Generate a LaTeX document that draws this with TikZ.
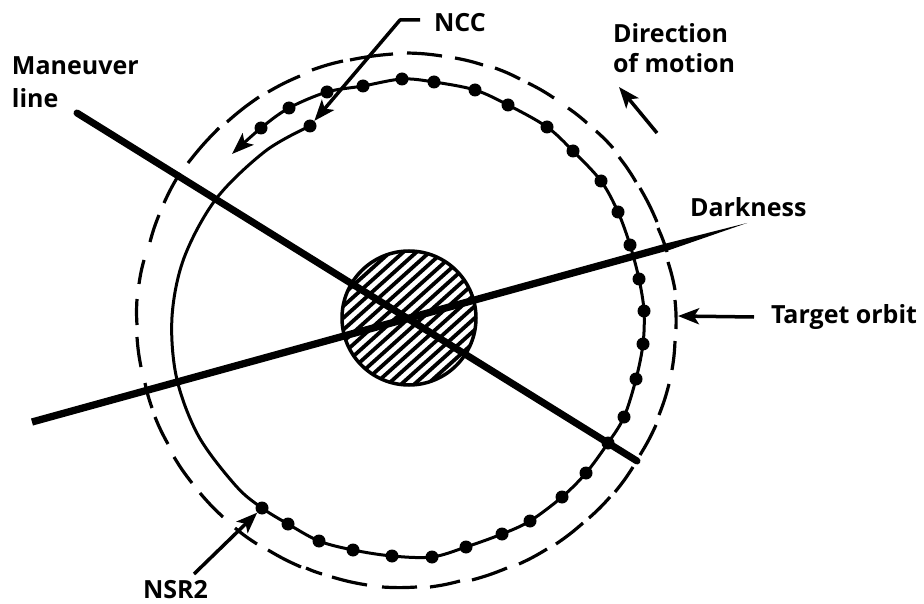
\documentclass[tikz,border=0pt]{standalone}
\usepackage{fontspec}
\setmainfont{Open Sans}
\usetikzlibrary{arrows.meta}
\tikzset{
  lbl/.style={font=\fontsize{25}{31}\selectfont\bfseries,inner sep=0pt,outer sep=0pt,anchor=base west},
  orbitline/.style={line width=3pt,line join=round},
  targetline/.style={line width=3.2pt},
  heavy/.style={line width=7pt},
  leader/.style={line width=3.5pt,-{Stealth[length=21pt,width=16pt,inset=5pt]}},
  orbdot/.style={circle,fill=black,inner sep=0pt,minimum size=13pt},
  earthdisk/.style={circle,draw,line width=3.5pt,inner sep=0pt,minimum size=134pt},
  hatchline/.style={line width=3.8pt}
}
\begin{document}
\begin{tikzpicture}[x=1pt,y=-1pt]
\useasboundingbox (0,0) rectangle (924,604);
% target orbit
\foreach \a/\b in {{407,53}/{442,56},{455,58}/{483,65},{495,68}/{520,79},{528,83}/{554,98},{568,108}/{587,123},{596,131}/{613,148},{619,157}/{636,182},{640,188}/{657,222},{658,228}/{667,252},{668,262}/{675,290},{675,300}/{676,329},{675,341}/{672,370},{669,384}/{659,415},{656,425}/{640,455},{633,467}/{615,492},{610,497}/{589,518},{583,523}/{556,544},{547,549}/{519,564},{507,568}/{472,580},{460,581}/{430,587},{417,587}/{382,587},{367,585}/{332,577},{322,574}/{306,568},{301,567}/{268,550},{257,544}/{235,528},{223,517}/{200,493},{192,483}/{174,457},{168,444}/{155,417},{152,408}/{145,383},{141,367}/{137,337},{137,325}/{137,299},{139,284}/{144,260},{150,242}/{159,215},{164,203}/{180,173},{188,163}/{219,128},{227,122}/{259,97},{268,92}/{300,76},{312,70}/{343,61},{350,60}/{393,54}}
  \draw[targetline] (\a) to[bend left=3.5] (\b);
% spiral orbit
\draw[orbitline,-{Stealth[length=22pt,width=16pt,inset=5pt]}] plot[smooth,tension=.55] coordinates {
 (310,126) (265.5,151) (216,199) (184,258) (172,317) (176.6,378) (198.5,436) (236,486)
 (262,508) (288,524) (319,541) (353,550) (392,556) (432,557) (466,547) (502,534)
 (530,521) (562,497) (586,473) (608,443) (624,417) (636,379) (643,344) (644,311)
 (639,279) (630,245) (618,212) (601,181) (573,151) (547,127) (508,105) (475,90)
 (434,82) (402,79) (363,86) (327,92) (289,108) (261,128) (232,154)};
\foreach \n/\p in {a/{262,508},b/{288,524},d/{319,541},e/{353,550},f/{392,556},g/{432,557},h/{466,547},i/{502,534},
 j/{530,521},k/{562,497},l/{586,473},m/{608,443},o/{624,417},p/{636,379},q/{643,344},r/{644,311},
 s/{639,279},t/{630,245},u/{618,212},v/{601,181},w/{573,151},x/{547,127},y/{508,105},z/{475,90},
 aa/{434,82},ab/{402,79},ac/{363,86},ad/{327,92},ae/{289,108},af/{261,128},ncd/{310,126}}
  \node[orbdot] (\n) at (\p) {};
% earth
\node[earthdisk] (earth) at (409,318) {};
\begin{scope}
\clip (409,318) circle (67);
\foreach \o in {-9,...,9}{
  \pgfmathsetmacro{\hx}{409+\o*8.8*0.669}
  \pgfmathsetmacro{\hy}{318+\o*8.8*0.743}
  \draw[hatchline] (\hx-60,\hy+54) -- (\hx+60,\hy-54);
}
\end{scope}
% heavy lines
\coordinate (m1) at (77,113);
\coordinate (m2) at (637,461);
\draw[heavy,line cap=round] (m1) -- (m2);
\coordinate (d3) at (747,223);
\fill (33,425.5) -- (31,418.5) -- (666,243.5) -- (d3) -- (668,250.5) -- cycle;
% labels
\node[lbl] (ncc) at (434,32) {NCC};
\node[lbl] (dir) at (613,43) {Direction};
\node[lbl] (dir2) at (613,73) {of motion};
\node[lbl] (man) at (12,75) {Maneuver};
\node[lbl] (man2) at (12,108) {line};
\node[lbl] (dark) at (690,217) {Darkness};
\node[lbl] (tgt) at (771,323) {Target orbit};
\node[lbl] (nsr) at (143,598) {NSR2};
% leaders
\coordinate (nccend) at (420,20);
\coordinate (nccbend) at (400,20);
\draw[leader,line join=round] (nccend) -- (nccbend) -- (ncd);
\coordinate (nsrstart) at (194,574);
\draw[leader] (nsrstart) -- (a);
\coordinate (tgtstart) at (754,317);
\coordinate (tgttip) at (678,316);
\draw[leader] (tgtstart) -- (tgttip);
\coordinate (dirstart) at (657,133);
\coordinate (dirtip) at (619,87);
\draw[leader] (dirstart) -- (dirtip);
\end{tikzpicture}
\end{document}
